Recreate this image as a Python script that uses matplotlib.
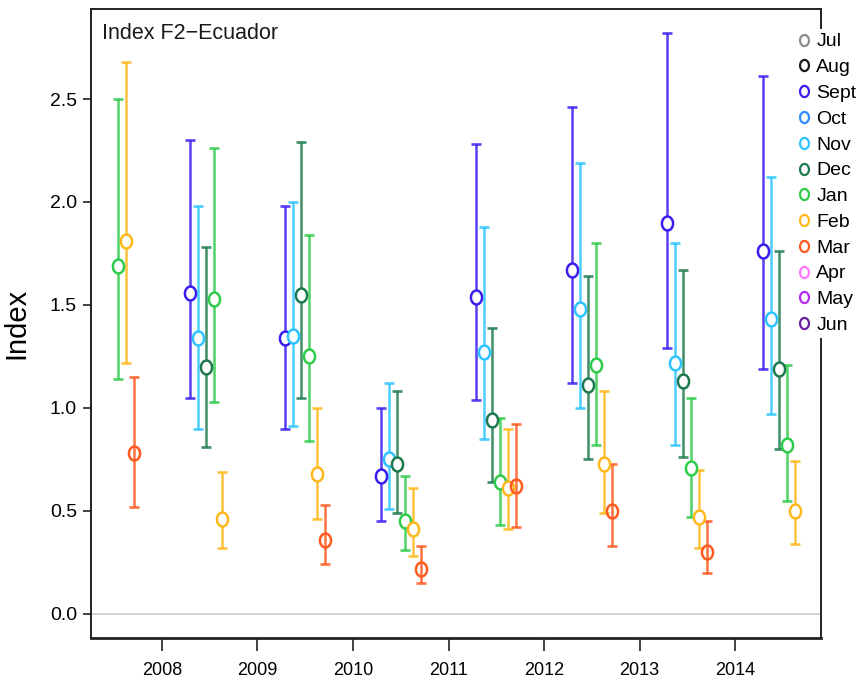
import numpy as np
import matplotlib
matplotlib.use("Agg")
import matplotlib.pyplot as plt
from matplotlib.path import Path
from matplotlib.lines import Line2D

nan = np.nan

# Seasons (year of the season start; Jan-Mar belong to the following calendar year)
seasons = [2007, 2008, 2009, 2010, 2011, 2012, 2013, 2014]
year_ticks = [2008, 2009, 2010, 2011, 2012, 2013, 2014]

legend_months = ["Jul", "Aug", "Sept", "Oct", "Nov", "Dec",
                 "Jan", "Feb", "Mar", "Apr", "May", "Jun"]
month_colors = {
    "Jul": "#8c8c8c", "Aug": "#1a1a1a", "Sept": "#3a1ef0", "Oct": "#2b8cff",
    "Nov": "#2ec4ff", "Dec": "#1e7a4e", "Jan": "#2ecc4a", "Feb": "#ffb81c",
    "Mar": "#ff5a1f", "Apr": "#ff77ff", "May": "#b52bf0", "Jun": "#6b1fa0",
}

# Index estimates and interval bounds per month, one entry per season
sept_mean = [nan, 1.56, 1.34, 0.67, 1.54, 1.67, 1.90, 1.76]
sept_lo   = [nan, 1.05, 0.90, 0.45, 1.04, 1.12, 1.29, 1.19]
sept_hi   = [nan, 2.30, 1.98, 1.00, 2.28, 2.46, 2.82, 2.61]

nov_mean = [nan, 1.34, 1.35, 0.75, 1.27, 1.48, 1.22, 1.43]
nov_lo   = [nan, 0.90, 0.91, 0.51, 0.85, 1.00, 0.82, 0.97]
nov_hi   = [nan, 1.98, 2.00, 1.12, 1.88, 2.19, 1.80, 2.12]

dec_mean = [nan, 1.20, 1.55, 0.73, 0.94, 1.11, 1.13, 1.19]
dec_lo   = [nan, 0.81, 1.05, 0.49, 0.64, 0.75, 0.76, 0.80]
dec_hi   = [nan, 1.78, 2.29, 1.08, 1.39, 1.64, 1.67, 1.76]

jan_mean = [1.69, 1.53, 1.25, 0.45, 0.64, 1.21, 0.71, 0.82]
jan_lo   = [1.14, 1.03, 0.84, 0.31, 0.43, 0.82, 0.47, 0.55]
jan_hi   = [2.50, 2.26, 1.84, 0.67, 0.95, 1.80, 1.05, 1.21]

feb_mean = [1.81, 0.46, 0.68, 0.41, 0.61, 0.73, 0.47, 0.50]
feb_lo   = [1.22, 0.32, 0.46, 0.28, 0.41, 0.49, 0.32, 0.34]
feb_hi   = [2.68, 0.69, 1.00, 0.61, 0.90, 1.08, 0.70, 0.74]

mar_mean = [0.78, nan, 0.36, 0.22, 0.62, 0.50, 0.30, nan]
mar_lo   = [0.52, nan, 0.24, 0.15, 0.42, 0.33, 0.20, nan]
mar_hi   = [1.15, nan, 0.53, 0.33, 0.92, 0.73, 0.45, nan]

series = [
    ("Sept", sept_mean, sept_lo, sept_hi),
    ("Nov", nov_mean, nov_lo, nov_hi),
    ("Dec", dec_mean, dec_lo, dec_hi),
    ("Jan", jan_mean, jan_lo, jan_hi),
    ("Feb", feb_mean, feb_lo, feb_hi),
    ("Mar", mar_mean, mar_lo, mar_hi),
]

sans = ["Liberation Sans", "DejaVu Sans"]

# slightly tall open circle
t = np.linspace(0, 2 * np.pi, 64)
oval = Path(np.column_stack([0.8 * np.cos(t), np.sin(t)]), closed=True)

fig = plt.figure(figsize=(8.56, 6.84), dpi=100)
ax = fig.add_axes([91 / 856, 46 / 684, 730 / 856, 629 / 684])

ax.axhline(0, color="#cfcfcf", lw=1.3, zorder=0)

for k, (name, mean, lo, hi) in enumerate(series):
    col = month_colors[name]
    mean = np.asarray(mean)
    lo = np.asarray(lo)
    hi = np.asarray(hi)
    x = np.asarray(seasons) + (3.5 + k) / 12.0
    ok = ~np.isnan(mean)
    ax.errorbar(x[ok], mean[ok], yerr=[mean[ok] - lo[ok], hi[ok] - mean[ok]],
                fmt="none", ecolor=col, elinewidth=1.8, capsize=3.8,
                capthick=1.9, alpha=0.85, zorder=2)
    ax.plot(x[ok], mean[ok], ls="none", marker=oval, markersize=10,
            mfc="none" if name == "Mar" else "white", mec=col, mew=1.8,
            zorder=3)

ax.set_xlim(2007.257, 2014.90)
ax.set_ylim(-0.117, 2.937)
ax.set_xticks(year_ticks)
ax.set_xticklabels([str(y) for y in year_ticks], family=sans, fontsize=13)
ax.set_yticks([0.0, 0.5, 1.0, 1.5, 2.0, 2.5])
ax.set_yticklabels(["0.0", "0.5", "1.0", "1.5", "2.0", "2.5"],
                   family=sans, fontsize=14)
ax.tick_params(axis="x", length=9, width=1.2, pad=8, color="#222222")
ax.tick_params(axis="y", length=6, width=1.2, pad=4, color="#222222")
for s in ax.spines.values():
    s.set_linewidth(1.4)
    s.set_color("#222222")
ax.spines["bottom"].set_linewidth(2.0)

ax.set_ylabel("Index", family=sans, fontsize=21, labelpad=14)
ax.text(0.015, 0.978, "Index F2\u2212Ecuador", transform=ax.transAxes,
        ha="left", va="top", family=sans, fontsize=15.5, color="#1a1a1a")

handles = [Line2D([], [], ls="none", marker=oval, markersize=8, mfc="white",
                  mec=month_colors[m], mew=1.6, label=m) for m in legend_months]
leg = fig.legend(handles=handles, loc="upper left",
                 bbox_to_anchor=(794 / 856, 1 - 29 / 684),
                 prop={"family": sans, "size": 14}, frameon=True,
                 facecolor="white", edgecolor="none", framealpha=1,
                 borderpad=0.2, labelspacing=0.42, handlelength=0.6,
                 handletextpad=0.35, borderaxespad=0)
leg.set_zorder(10)

fig.savefig("out.png", dpi=100)
